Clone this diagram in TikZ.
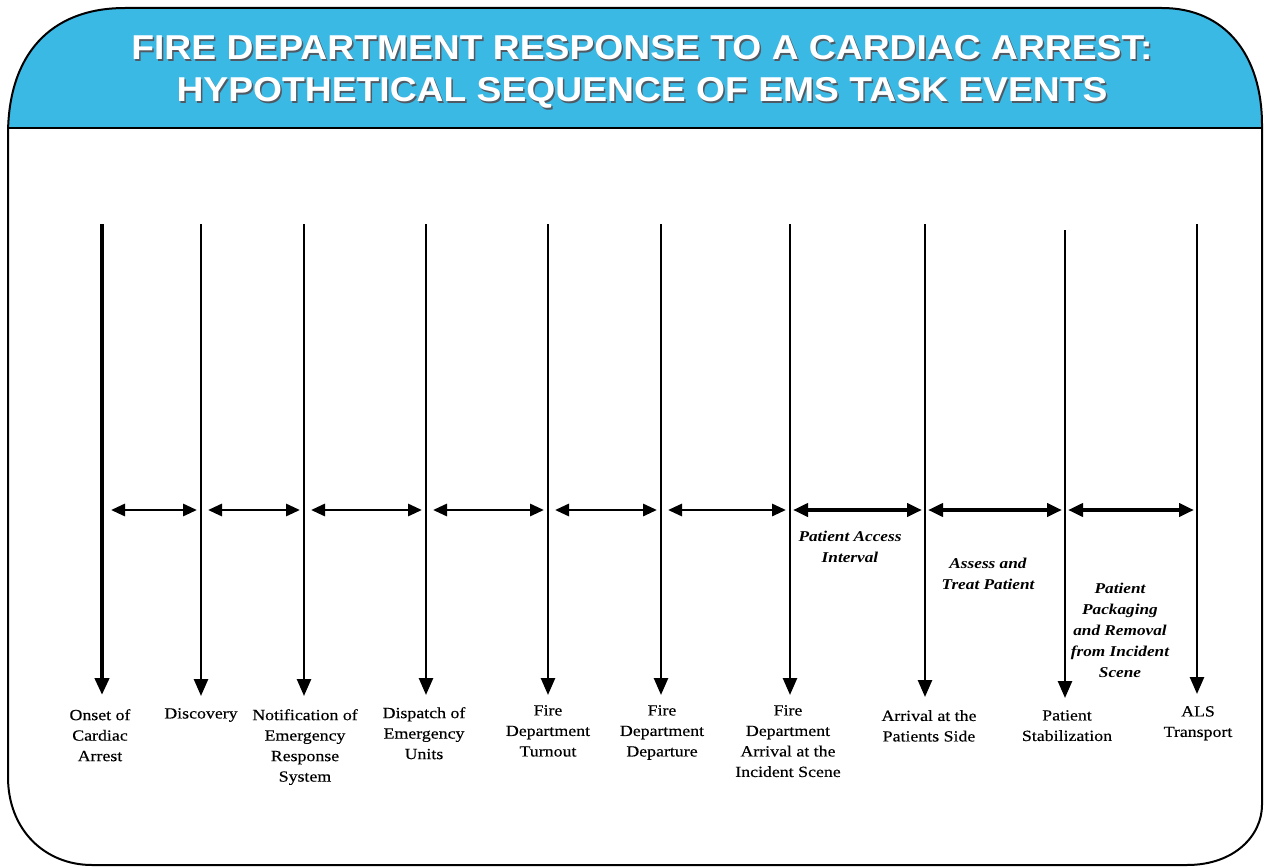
\documentclass[tikz,border=0pt]{standalone}
\usepackage{fontspec}
\setmainfont{Liberation Serif}
\newfontfamily\titlefont[FakeStretch=1.08]{Liberation Sans}
\newfontfamily\lblfont[FakeStretch=1.15,FakeBold=0.35]{Liberation Serif}
\newfontfamily\ivfont[FakeStretch=1.15]{Liberation Serif}
\usetikzlibrary{arrows.meta}
\definecolor{hdrblue}{RGB}{59,185,229}
\definecolor{shadowgray}{RGB}{80,90,100}
\tikzset{
  evline/.style={line width=2.6pt, -{Triangle[length=17pt,width=14pt]}},
  evfirst/.style={line width=4.2pt, -{Triangle[length=17pt,width=14pt]}},
  evlabel/.style={align=center, anchor=north, inner sep=0pt,
    font=\lblfont\fontsize{15.5}{20.5}\selectfont},
  ivarrow/.style={line width=2.9pt,
    {Triangle[length=14pt,width=12pt]}-{Triangle[length=14pt,width=12pt]},
    shorten <=7pt, shorten >=4pt},
  ivthick/.style={line width=4.2pt,
    {Triangle[length=15pt,width=13pt]}-{Triangle[length=15pt,width=13pt]},
    shorten <=3pt, shorten >=3pt},
  ivlabel/.style={align=center, anchor=north, inner sep=0pt,
    font=\ivfont\bfseries\itshape\fontsize{15}{21}\selectfont},
  titletext/.style={align=center, inner sep=0pt,
    font=\titlefont\bfseries\fontsize{34.5}{42}\selectfont}
}
\begin{document}
\begin{tikzpicture}[x=1pt,y=-1pt]
\useasboundingbox (0,0) rectangle (1264,867);
% frame and header
\def\framepath{(8,135) .. controls (8,55) and (50,8) .. (125,8) -- (1162,8)
  .. controls (1225,8) and (1262,55) .. (1262,125) -- (1262,805)
  .. controls (1262,835) and (1235,865) .. (1187,865) -- (92,865)
  .. controls (45,865) and (8,830) .. (8,777) -- cycle}
\begin{scope}
  \clip \framepath;
  \fill[hdrblue] (0,0) rectangle (1264,128);
\end{scope}
\draw[line width=1.8pt] (8,128) -- (1262,128);
\draw[line width=2pt] \framepath;
% title
\node[titletext, text=shadowgray] (titleshadow) at (643.5,73.5)
  {FIRE DEPARTMENT RESPONSE TO A CARDIAC ARREST:\\HYPOTHETICAL SEQUENCE OF EMS TASK EVENTS};
\node[titletext, text=white] (title) at (642,72)
  {FIRE DEPARTMENT RESPONSE TO A CARDIAC ARREST:\\HYPOTHETICAL SEQUENCE OF EMS TASK EVENTS};
% event lines
\coordinate (t1) at (102,224);  \coordinate (b1) at (102,695);
\coordinate (t2) at (201,224);  \coordinate (b2) at (201,696);
\coordinate (t3) at (304,224);  \coordinate (b3) at (304,696);
\coordinate (t4) at (426,224);  \coordinate (b4) at (426,695);
\coordinate (t5) at (548,224);  \coordinate (b5) at (548,695);
\coordinate (t6) at (661,224);  \coordinate (b6) at (661,695);
\coordinate (t7) at (790,224);  \coordinate (b7) at (790,695);
\coordinate (t8) at (925,224);  \coordinate (b8) at (925,697);
\coordinate (t9) at (1065,230); \coordinate (b9) at (1065,698);
\coordinate (t10) at (1197,224); \coordinate (b10) at (1197,694);
\draw[evfirst] (t1) -- (b1);
\foreach \i in {2,...,10} { \draw[evline] (t\i) -- (b\i); }
% interval arrow anchors
\coordinate (h1) at (104,510);  \coordinate (h2) at (201,510);
\coordinate (h3) at (304,510);  \coordinate (h4) at (426,510);
\coordinate (h5) at (548,510);  \coordinate (h6) at (661,510);
\coordinate (h7) at (790,510);  \coordinate (h8) at (925,510);
\coordinate (h9) at (1065,510); \coordinate (h10) at (1197,510);
\draw[ivarrow] (h1) -- (h2);
\draw[ivarrow] (h2) -- (h3);
\draw[ivarrow] (h3) -- (h4);
\draw[ivarrow] (h4) -- (h5);
\draw[ivarrow] (h5) -- (h6);
\draw[ivarrow] (h6) -- (h7);
\draw[ivthick] (h7) -- (h8);
\draw[ivthick] (h8) -- (h9);
\draw[ivthick] (h9) -- (h10);
% interval labels
\node[ivlabel] (iv7) at (850,531) {Patient Access\\Interval};
\node[ivlabel] (iv8) at (988,558) {Assess and\\Treat Patient};
\node[ivlabel] (iv9) at (1120,583) {Patient\\Packaging\\and Removal\\from Incident\\Scene};
% event labels
\node[evlabel] (l1) at (100,709) {Onset of\\Cardiac\\Arrest};
\node[evlabel] (l2) at (201,708) {Discovery};
\node[evlabel] (l3) at (305,709) {Notification of\\Emergency\\Response\\System};
\node[evlabel] (l4) at (424,707) {Dispatch of\\Emergency\\Units};
\node[evlabel] (l5) at (548,705) {Fire\\Department\\Turnout};
\node[evlabel] (l6) at (662,705) {Fire\\Department\\Departure};
\node[evlabel] (l7) at (788,705) {Fire\\Department\\Arrival at the\\Incident Scene};
\node[evlabel] (l8) at (929,710) {Arrival at the\\Patients Side};
\node[evlabel] (l9) at (1067,710) {Patient\\Stabilization};
\node[evlabel] (l10) at (1198,706) {ALS\\Transport};
\end{tikzpicture}
\end{document}
